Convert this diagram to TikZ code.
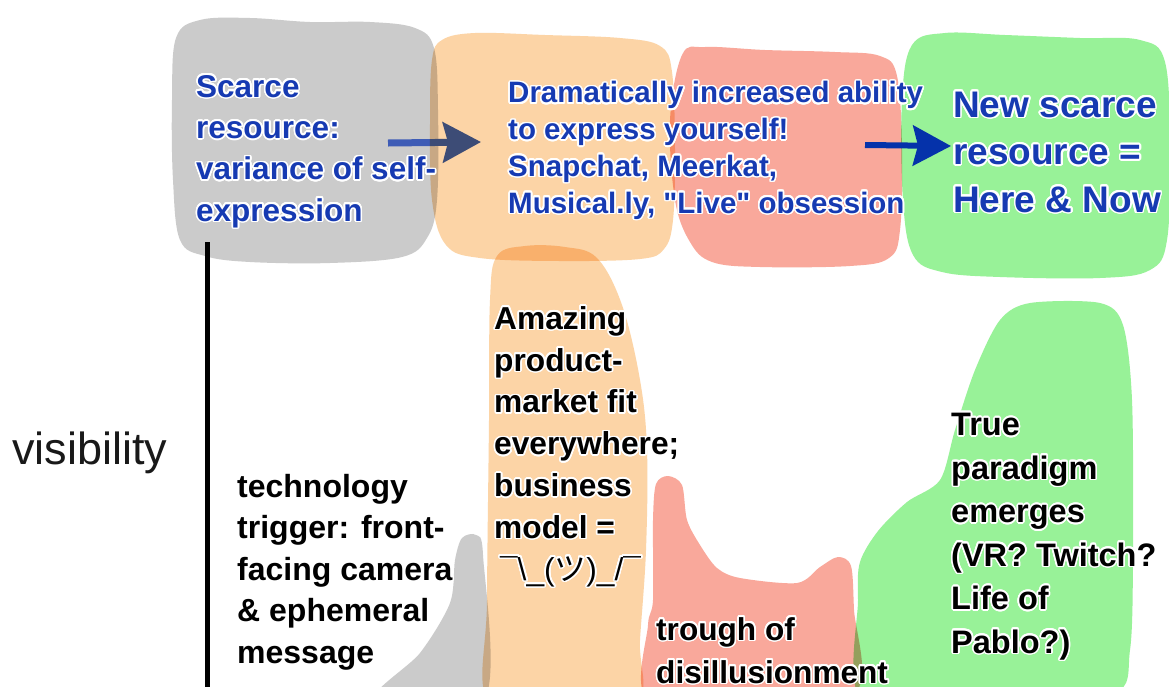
\documentclass[tikz,border=0pt]{standalone}
\usepackage{fontspec}
\setmainfont{Liberation Sans}
\newfontfamily\cjkfont{Noto Sans CJK JP}
\newfontfamily\qfont{Liberation Sans}
\usepackage{contour}
\contourlength{1.6pt}
\contournumber{24}
\usetikzlibrary{arrows.meta}
\definecolor{grayB}{RGB}{203,203,203}
\definecolor{orangeB}{RGB}{252,212,166}
\definecolor{salmonB}{RGB}{249,168,155}
\definecolor{greenB}{RGB}{152,242,152}
\definecolor{txtblue}{RGB}{22,58,178}
\definecolor{arrowA}{RGB}{62,92,182}
\definecolor{arrowB}{RGB}{5,50,170}
\newcommand{\cl}[1]{\contour{white}{#1}}
\newcommand{\dq}{{\qfont"}}
\tikzset{
  blob/.style={blend mode=multiply, draw=none},
  txtbase/.style={align=left, inner sep=0pt, anchor=base west},
  bluetxt/.style={txtbase, text=txtblue},
  blacktxt/.style={txtbase, text=black},
  bigarrow/.style={line width=7pt, -{Stealth[length=38pt,width=40pt,inset=5pt]}},
}
\begin{document}
\begin{tikzpicture}[x=1pt,y=-1pt]
\useasboundingbox (0,0) rectangle (1169,686);
\fill[white] (0,0) rectangle (1169,686);
\begin{scope}
\clip (0,0) rectangle (1169,686);
% gray top blob
\fill[blob, fill=grayB] plot[smooth cycle, tension=0.6] coordinates {
 (176,38) (200,20) (250,18) (310,22) (370,22) (415,28) (434,48) (438,110) (437,200) (427,238) (402,257) (330,263) (250,262) (205,256) (180,240) (173,180) (172,100)};
% connector arrow 1
\coordinate (a1s) at (388,143);
\coordinate (a1e) at (481,142);
\draw[bigarrow, arrowA] (a1s) -- (a1e);
% orange top blob
\fill[blob, fill=orangeB] plot[smooth cycle, tension=0.6] coordinates {
 (442,40) (475,33) (545,35) (620,38) (660,46) (672,72) (675,150) (673,220) (664,249) (640,259) (560,261) (480,258) (446,245) (432,200) (430,120) (432,60)};
% orange vertical blob
\fill[blob, fill=orangeB] plot[smooth cycle, tension=0.6] coordinates {
 (497,256) (525,246) (565,247) (597,258) (622,305) (640,380) (647,450) (646,550) (640,640) (637,700) (560,705) (488,700) (487,600) (489,420) (490,300)};
% salmon top blob
\fill[blob, fill=salmonB] plot[smooth cycle, tension=0.6] coordinates {
 (682,55) (705,47) (765,50) (835,52) (880,56) (897,76) (902,150) (900,230) (889,258) (850,266) (760,267) (712,262) (690,242) (675,200) (670,120)};
% green top blob
\fill[blob, fill=greenB] plot[smooth cycle, tension=0.6] coordinates {
 (912,45) (945,33) (1005,35) (1080,38) (1140,40) (1165,62) (1170,150) (1167,240) (1150,270) (1100,278) (1000,277) (942,272) (913,255) (903,200) (902,100)};
% salmon lower blob
\fill[blob, fill=salmonB] plot[smooth cycle, tension=0.5] coordinates {
 (656,484) (668,476) (682,485) (687,520) (700,545) (717,568) (740,578) (797,583) (820,567) (838,557) (851,566) (854,610) (857,690) (760,705) (648,700) (648,625) (653,600) (653,520)};
% green lower blob
\fill[blob, fill=greenB] plot[smooth cycle, tension=0.5] coordinates {
 (1030,303) (1100,303) (1123,325) (1132,400) (1133,550) (1130,650) (1112,695) (980,705) (862,700) (858,600) (860,562) (878,531) (907,502) (940,480) (955,430) (975,370) (1000,320)};
% gray lower blob
\fill[blob, fill=grayB] plot[smooth cycle, tension=0.5] coordinates {
 (462,538) (476,535) (483,555) (484,700) (375,700) (420,653) (450,603) (455,560)};
\end{scope}
% connector arrow 2
\coordinate (a2s) at (865,145);
\coordinate (a2e) at (951,146);
\draw[bigarrow, arrowB, line width=6pt] (a2s) -- (a2e);
% axis
\coordinate (axTop) at (207,242);
\coordinate (axBot) at (207,690);
\draw[line width=5pt, black] (axTop) -- (axBot);
% texts (anchor = baseline of the last line)
\node[bluetxt, font=\fontsize{31.5}{41.3}\selectfont\bfseries] (scarce) at (196,221)
  {\cl{Scarce}\\\cl{resource:}\\\cl{variance of self-}\\\cl{expression}};
\node[bluetxt, font=\fontsize{29.5}{36.7}\selectfont\bfseries] (express) at (508,213)
  {\cl{Dramatically increased ability}\\\cl{to express yourself!}\\\cl{Snapchat, Meerkat,}\\\cl{Musical.ly, \dq Live\dq\ obsession}};
\node[bluetxt, font=\fontsize{37}{47.5}\selectfont\bfseries] (newscarce) at (953,212)
  {\cl{New scarce}\\\cl{resource =}\\\cl{Here \& Now}};
\node[blacktxt, font=\fontsize{31.7}{41.8}\selectfont\bfseries] (amazing) at (494,580)
  {\cl{Amazing}\\\cl{product-}\\\cl{market fit}\\\cl{everywhere;}\\\cl{business}\\\cl{model =}\\\hspace{6pt}\cl{\mdseries¯\textbackslash\_({\cjkfont ツ})\_/¯}};
\node[blacktxt, font=\fontsize{32}{41.5}\selectfont\bfseries] (trigger) at (237,663)
  {\cl{technology}\\\cl{trigger: front-}\\\cl{facing camera}\\\cl{\& ephemeral}\\\cl{message}};
\node[blacktxt, font=\fontsize{32.5}{43.5}\selectfont\bfseries] (paradigm) at (951,653)
  {\cl{True}\\\cl{paradigm}\\\cl{emerges}\\\cl{(VR? Twitch?}\\\cl{Life of}\\\cl{Pablo?)}};
\node[blacktxt, font=\fontsize{31.6}{43}\selectfont\bfseries] (trough) at (656,683)
  {\cl{trough of}\\\cl{disillusionment}};
\node[txtbase, text=black!90, font=\fontsize{45}{50}\selectfont] (visibility) at (12,464) {visibility};
\end{tikzpicture}
\end{document}
